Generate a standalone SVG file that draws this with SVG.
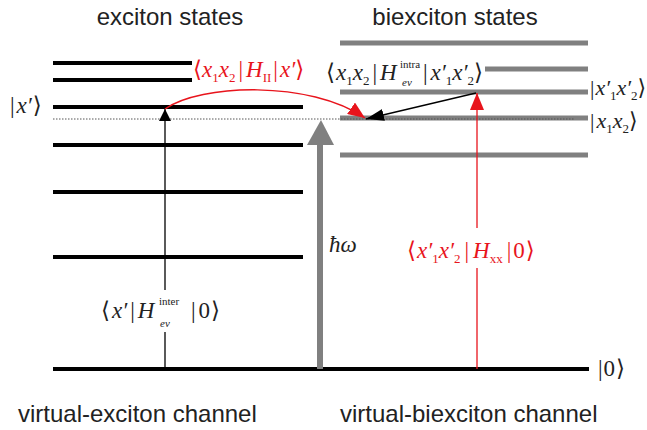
<svg xmlns="http://www.w3.org/2000/svg" width="647" height="430" viewBox="0 0 647 430">
<defs>
<style>
.title{font-family:"Liberation Sans",Arial,sans-serif;font-size:24px;fill:#222}
.m{font-family:"Liberation Serif","DejaVu Serif",serif;font-size:23px}
.i{font-style:italic}
.s{font-size:13px}
.t{font-size:11px}
.blk{fill:#222}
.red{fill:#e8141c}
.ex{stroke:#000;stroke-width:4;fill:none}
.bx{stroke:#808080;stroke-width:5;fill:none}
</style>
<marker id="ab" markerWidth="12" markerHeight="12" refX="12" refY="6" orient="auto" markerUnits="userSpaceOnUse"><path d="M0,0 L12,6 L0,12 Z" fill="#000"/></marker>
<marker id="ab2" markerWidth="18" markerHeight="12" refX="18" refY="6" orient="auto" markerUnits="userSpaceOnUse"><path d="M0,0 L18,6 L0,12 Z" fill="#000"/></marker>
<marker id="ar" markerWidth="17" markerHeight="14" refX="17" refY="7" orient="auto" markerUnits="userSpaceOnUse"><path d="M0,0 L17,7 L0,14 Z" fill="#e8141c"/></marker>
</defs>
<rect width="647" height="430" fill="#fff"/>

<text class="title" x="170" y="25" text-anchor="middle">exciton states</text>
<text class="title" x="455" y="25" text-anchor="middle">biexciton states</text>
<text class="title" x="18" y="422">virtual-exciton channel</text>
<text class="title" x="340" y="422">virtual-biexciton channel</text>

<g id="exciton-levels">
<line class="ex" x1="53" y1="63" x2="192" y2="63"/>
<line class="ex" x1="53" y1="80" x2="192" y2="80"/>
<line class="ex" x1="53" y1="107" x2="303" y2="107"/>
<line class="ex" x1="53" y1="145" x2="303" y2="145"/>
<line class="ex" x1="53" y1="192" x2="303" y2="192"/>
<line class="ex" x1="53" y1="257" x2="303" y2="257"/>
</g>
<g id="ground">
<line class="ex" x1="53" y1="369" x2="589" y2="369"/>
</g>
<g id="biexciton-levels">
<line class="bx" x1="340" y1="43" x2="588" y2="43"/>
<line class="bx" x1="485" y1="69" x2="588" y2="69"/>
<line class="bx" x1="340" y1="92" x2="588" y2="92"/>
<line class="bx" x1="340" y1="118" x2="588" y2="118"/>
<line class="bx" x1="340" y1="155" x2="588" y2="155"/>
</g>
<line x1="53" y1="119" x2="575" y2="119" stroke="#555" stroke-width="1" stroke-dasharray="1.5,1.5"/>

<g id="connectors">
<line x1="165" y1="367" x2="165" y2="332" stroke="#000" stroke-width="1.3"/>
<line x1="165" y1="290" x2="165" y2="109" stroke="#000" stroke-width="1.3" marker-end="url(#ab)"/>
<line x1="320" y1="369" x2="320" y2="140" stroke="#808080" stroke-width="6"/>
<path d="M307,145 L321,120 L334,145 Z" fill="#808080"/>
<line x1="477" y1="369" x2="477" y2="268" stroke="#e8141c" stroke-width="1.3"/>
<line x1="477" y1="228" x2="477" y2="93" stroke="#e8141c" stroke-width="1.3" marker-end="url(#ar)"/>
<line x1="476" y1="93" x2="366" y2="119" stroke="#000" stroke-width="1.3" marker-end="url(#ab2)"/>
<path d="M165,109 C200,84 310,80 365,118" fill="none" stroke="#e8141c" stroke-width="1.5" marker-end="url(#ar)"/>
</g>

<g id="labels">
<text class="m blk" x="10" y="113">|<tspan class="i" dx="2">x′</tspan><tspan dx="1">⟩</tspan></text>
<text class="m blk" x="590" y="95" style="font-size:22px">|<tspan class="i" dx="1">x′</tspan><tspan class="s" dy="5">1</tspan><tspan class="i" dy="-5">x′</tspan><tspan class="s" dy="5">2</tspan><tspan dy="-5">⟩</tspan></text>
<text class="m blk" x="590" y="128" style="font-size:22px">|<tspan class="i" dx="2">x</tspan><tspan class="s" dy="5">1</tspan><tspan class="i" dy="-5">x</tspan><tspan class="s" dy="5">2</tspan><tspan dy="-5">⟩</tspan></text>
<text class="m blk" x="598" y="376">|<tspan dx="1">0</tspan><tspan dx="1">⟩</tspan></text>
<text class="m blk i" x="329" y="252">ħω</text>

<text class="m red" x="193" y="77">⟨<tspan class="i">x</tspan><tspan class="s" dy="5">1</tspan><tspan class="i" dy="-5">x</tspan><tspan class="s" dy="5">2</tspan><tspan dy="-5" dx="3">|</tspan><tspan class="i" dx="3">H</tspan><tspan class="s" dy="5">II</tspan><tspan dy="-5" dx="2">|</tspan><tspan class="i" dx="2">x′</tspan>⟩</text>

<text class="m blk" x="326" y="80">⟨<tspan class="i" dx="1">x</tspan><tspan class="s" dy="5">1</tspan><tspan class="i" dy="-5">x</tspan><tspan class="s" dy="5">2</tspan><tspan dy="-5" dx="3">|</tspan><tspan class="i" dx="3">H</tspan></text>
<text class="m blk t" x="400" y="68">intra</text>
<text class="m blk t i" x="402" y="86">ev</text>
<text class="m blk" x="423" y="80">|<tspan class="i" dx="3">x′</tspan><tspan class="s" dy="5">1</tspan><tspan class="i" dy="-5">x′</tspan><tspan class="s" dy="5">2</tspan><tspan dy="-5">⟩</tspan></text>

<text class="m blk" x="101" y="318">⟨<tspan class="i" dx="2">x′</tspan><tspan dx="3">|</tspan><tspan class="i" dx="3">H</tspan></text>
<text class="m blk t" x="159" y="305">inter</text>
<text class="m blk t i" x="160" y="327">ev</text>
<text class="m blk" x="191" y="318">|<tspan dx="3">0</tspan><tspan dx="1">⟩</tspan></text>

<text class="m red" x="407" y="258">⟨<tspan class="i" dx="1">x′</tspan><tspan class="s" dy="5">1</tspan><tspan class="i" dy="-5">x′</tspan><tspan class="s" dy="5">2</tspan><tspan dy="-5" dx="4">|</tspan><tspan class="i" dx="4">H</tspan><tspan class="s" dy="5">xx</tspan><tspan dy="-5" dx="4">|</tspan><tspan dx="2">0</tspan><tspan dx="1">⟩</tspan></text>
</g>
</svg>
